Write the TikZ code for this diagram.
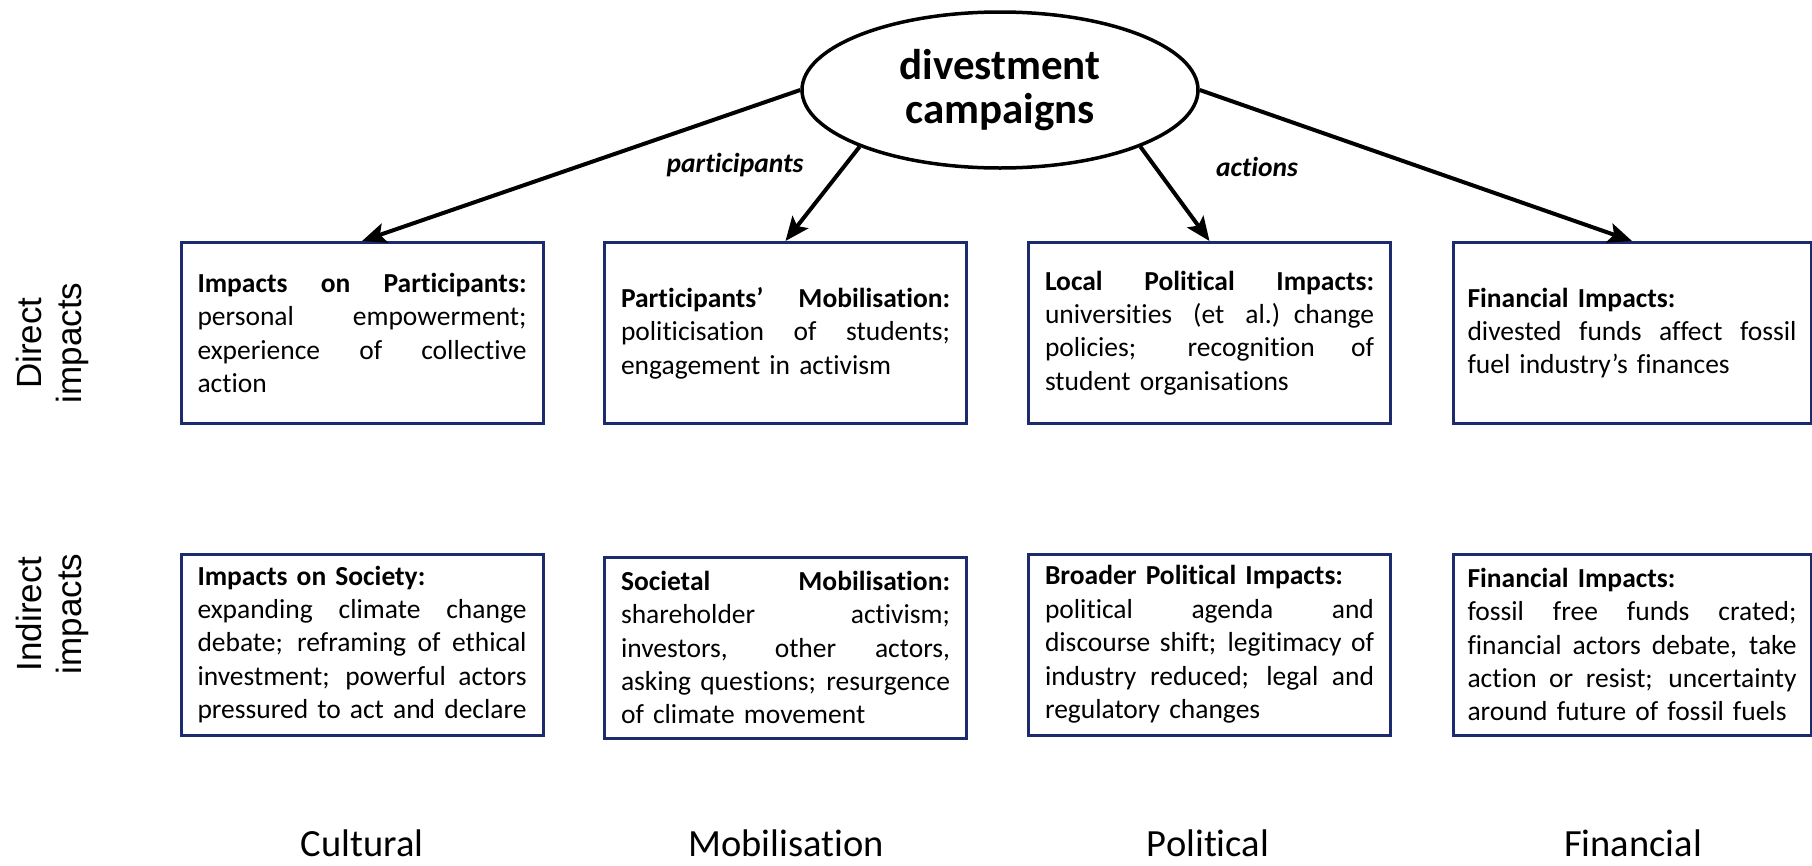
\documentclass[tikz,border=0pt]{standalone}
\usepackage{fontspec}
\setmainfont{Carlito}[Ligatures={TeX,NoCommon}]
\newfontfamily\arialf{Liberation Sans}
\usetikzlibrary{shapes.geometric,arrows.meta}
\definecolor{boxblue}{RGB}{28,42,110}
\newcommand\jline[1]{\hbox to\hsize{\spaceskip=\fontdimen2\font plus 1fil\relax #1}}
\newcommand\rline[1]{\hbox to\hsize{#1\hfil}}
\tikzset{
  impbox/.style={draw=boxblue, line width=3pt, rectangle, inner sep=0pt,
    minimum width=362pt, minimum height=181pt, text width=329pt,
    font=\fontsize{27.5}{33.4}\selectfont},
  arr/.style={line width=4pt, -{Stealth[length=24pt,width=20pt,inset=5pt]}},
  sidelab/.style={rotate=90, anchor=base, font=\arialf\fontsize{35}{40}\selectfont, inner sep=0pt},
  botlab/.style={anchor=base, font=\fontsize{38.5}{40}\selectfont, inner sep=0pt},
  arrlab/.style={font=\fontsize{27.5}{33}\selectfont\bfseries\itshape, inner sep=0pt}
}
\begin{document}
\begin{tikzpicture}[x=1pt,y=-1pt]
\useasboundingbox (0,0) rectangle (1812,865);

\node[ellipse, draw, line width=3.5pt, minimum width=396pt, minimum height=156pt,
  inner sep=0pt, align=center, font=\fontsize{43}{44}\selectfont\bfseries]
  (ell) at (1000,90) {divestment\\campaigns};

% Row 1
\node[impbox] (b1) at (362,333) {%
\jline{\bfseries Impacts on Participants:}
\jline{personal empowerment;}
\jline{experience of collective}
\rline{action}};
\node[impbox] (b2) at (785.5,333) {%
\jline{\bfseries Participants’ Mobilisation:}
\jline{politicisation of students;}
\rline{engagement in activism}};
\node[impbox] (b3) at (1209.5,333) {%
\jline{\bfseries Local Political Impacts:}
\jline{universities (et al.) change}
\jline{policies; recognition of}
\rline{student organisations}};
\node[impbox, minimum width=358pt] (b4) at (1632,333) {%
\rline{\bfseries Financial Impacts:}
\jline{divested funds affect fossil}
\rline{fuel industry’s finances}};

% Row 2
\node[impbox] (b5) at (362,644.5) {%
\rline{\bfseries Impacts on Society:}
\jline{expanding climate change}
\jline{debate; reframing of ethical}
\jline{investment; powerful actors}
\rline{pressured to act and declare}};
\node[impbox] (b6) at (785.5,647.5) {%
\jline{\bfseries Societal Mobilisation:}
\jline{shareholder activism;}
\jline{investors, other actors,}
\jline{asking questions; resurgence}
\rline{of climate movement}};
\node[impbox] (b7) at (1209.5,644.5) {%
\rline{\bfseries Broader Political Impacts:}
\jline{political agenda and}
\jline{discourse shift; legitimacy of}
\jline{industry reduced; legal and}
\rline{regulatory changes}};
\node[impbox, minimum width=358pt] (b8) at (1632,644.5) {%
\rline{\bfseries Financial Impacts:}
\jline{fossil free funds crated;}
\jline{financial actors debate, take}
\jline{action or resist; uncertainty}
\rline{around future of fossil fuels}};

% Arrows
\draw[arr] (ell.west) -- (b1.north);
\draw[arr] (ell.202) -- (b2.north);
\draw[arr] (ell.338) -- (b3.north);
\draw[arr] (ell.east) -- (b4.north);

\node[arrlab] (lp) at (735,165) {participants};
\node[arrlab] (la) at (1257,167) {actions};

% Side labels
\node[sidelab] (dir1) at (41,343) {Direct};
\node[sidelab] (dir2) at (81,343) {impacts};
\node[sidelab] (ind1) at (41,614) {Indirect};
\node[sidelab] (ind2) at (81,614) {impacts};

% Bottom labels
\node[botlab] (c1) at (362,856) {Cultural};
\node[botlab] (c2) at (786,856) {Mobilisation};
\node[botlab] (c3) at (1208,856) {Political};
\node[botlab] (c4) at (1633,856) {Financial};
\end{tikzpicture}
\end{document}
